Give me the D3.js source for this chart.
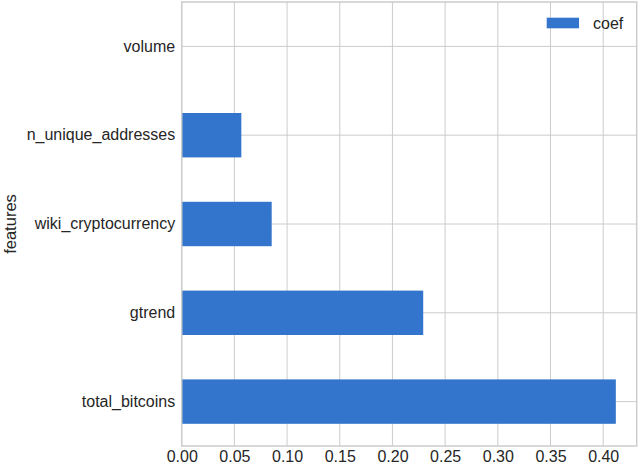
<!DOCTYPE html>
<html><head><meta charset="utf-8">
<script src="https://cdn.jsdelivr.net/npm/d3@7"></script>
<style>body{margin:0;background:#fff;} text{font-family:"Liberation Sans",Arial,sans-serif;fill:#262626;}</style>
</head><body>
<svg id="c" width="640" height="464"></svg>
<script>
const features = ["volume","n_unique_addresses","wiki_cryptocurrency","gtrend","total_bitcoins"];
const coef = [0.0, 0.0566, 0.0854, 0.2292, 0.412];
const xTicks = [0.00,0.05,0.10,0.15,0.20,0.25,0.30,0.35,0.40];
const seriesName = "coef";

const svg = d3.select("#c");
const m = {left:181.7, right:636.7, top:2, bottom:446};
const x = d3.scaleLinear().domain([0, 0.4318]).range([m.left, m.right]);
const y = d3.scaleBand().domain(features).range([m.top, m.bottom]).paddingInner(0.5).paddingOuter(0.25);
const grid = "#cccccc";
const FONT = '"Liberation Sans",Arial,sans-serif';

// grid
svg.append("g").selectAll("line").data(xTicks).join("line")
  .attr("x1", d=>x(d)).attr("x2", d=>x(d)).attr("y1", m.top).attr("y2", m.bottom)
  .attr("stroke", grid).attr("stroke-width", 1);
svg.append("g").selectAll("line").data(features).join("line")
  .attr("x1", m.left).attr("x2", m.right)
  .attr("y1", d=>y(d)+y.bandwidth()/2).attr("y2", d=>y(d)+y.bandwidth()/2)
  .attr("stroke", grid).attr("stroke-width", 1);

// bars
svg.append("g").selectAll("rect").data(features).join("rect")
  .attr("x", x(0)).attr("y", d=>y(d))
  .attr("width", (d,i)=>x(coef[i])-x(0)).attr("height", y.bandwidth())
  .attr("fill", "#3375cc");

// frame
svg.append("rect").attr("x", m.left).attr("y", m.top).attr("width", m.right-m.left).attr("height", m.bottom-m.top)
  .attr("fill","none").attr("stroke", grid).attr("stroke-width", 1.5);

// x axis
const xa = svg.append("g").attr("transform", `translate(0,${m.bottom})`)
  .call(d3.axisBottom(x).tickValues(xTicks).tickFormat(d3.format(".2f")).tickSize(0).tickPadding(5));
xa.select(".domain").remove();
xa.selectAll("text").attr("font-size", 16).style("font-family", FONT).attr("fill","#262626");

// y axis
const ya = svg.append("g").attr("transform", `translate(${m.left},0)`)
  .call(d3.axisLeft(y).tickSize(0).tickPadding(6.5));
ya.select(".domain").remove();
ya.selectAll("text").attr("font-size", 16).style("font-family", FONT).attr("fill","#262626");

// y label
svg.append("text").attr("transform", `translate(16,224) rotate(-90)`)
  .attr("text-anchor","middle").attr("font-size", 16.5).text("features");

// legend
svg.append("rect").attr("x", 546.7).attr("y", 17.7).attr("width", 32.3).attr("height", 10.6).attr("fill", "#3375cc");
svg.append("text").attr("x", 593).attr("y", 28.5).attr("font-size", 16).text(seriesName);
</script>
</body></html>
